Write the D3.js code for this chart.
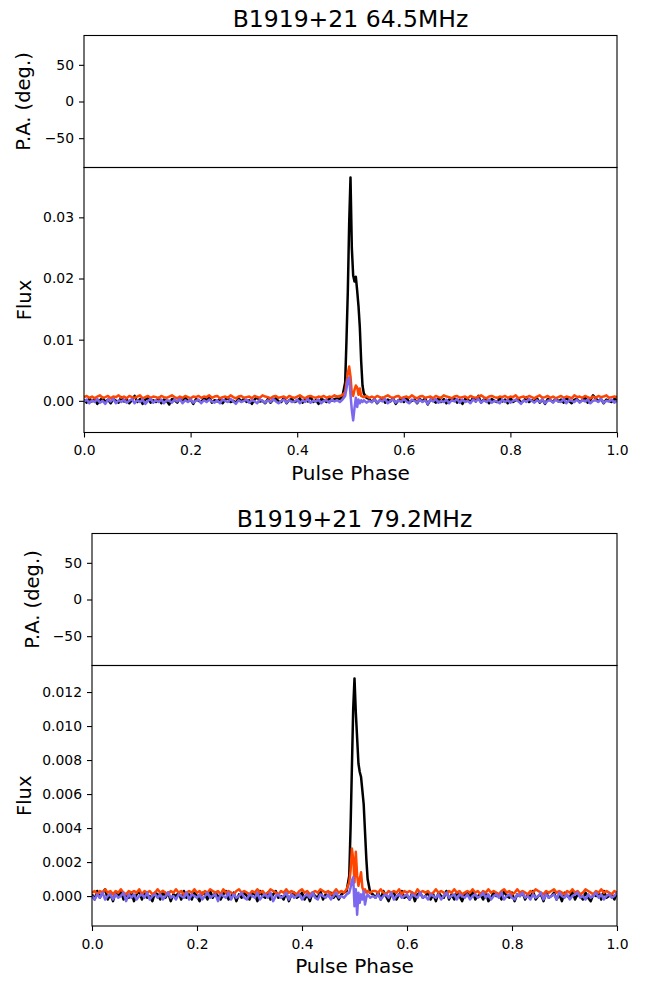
<!DOCTYPE html>
<html>
<head>
<meta charset="utf-8">
<script src="https://cdn.jsdelivr.net/npm/d3@7"></script>
<style>
body { margin: 0; background: #fff; }
text { font-family: "DejaVu Sans", sans-serif; }
</style>
</head>
<body>
<div id="chart"></div>
<script>
// Pulse phase grid (0.005 off-pulse, finer across the pulse)
const phase = [
	0.000,0.005,0.010,0.015,0.020,0.025,0.030,0.035,0.040,0.045,
	0.050,0.055,0.060,0.065,0.070,0.075,0.080,0.085,0.090,0.095,
	0.100,0.105,0.110,0.115,0.120,0.125,0.130,0.135,0.140,0.145,
	0.150,0.155,0.160,0.165,0.170,0.175,0.180,0.185,0.190,0.195,
	0.200,0.205,0.210,0.215,0.220,0.225,0.230,0.235,0.240,0.245,
	0.250,0.255,0.260,0.265,0.270,0.275,0.280,0.285,0.290,0.295,
	0.300,0.305,0.310,0.315,0.320,0.325,0.330,0.335,0.340,0.345,
	0.350,0.355,0.360,0.365,0.370,0.375,0.380,0.385,0.390,0.395,
	0.400,0.405,0.410,0.415,0.420,0.425,0.430,0.435,0.440,0.445,
	0.450,0.455,0.460,0.465,0.470,
	0.475,0.48,0.485,0.49,0.4925,0.495,0.4975,0.50,0.5025,0.505,0.5075,0.51,0.5125,0.515,0.5175,0.52,0.5225,0.525,0.53,0.535,
	0.540,0.545,0.550,0.555,0.560,0.565,0.570,0.575,0.580,0.585,
	0.590,0.595,0.600,0.605,0.610,0.615,0.620,0.625,0.630,0.635,
	0.640,0.645,0.650,0.655,0.660,0.665,0.670,0.675,0.680,0.685,
	0.690,0.695,0.700,0.705,0.710,0.715,0.720,0.725,0.730,0.735,
	0.740,0.745,0.750,0.755,0.760,0.765,0.770,0.775,0.780,0.785,
	0.790,0.795,0.800,0.805,0.810,0.815,0.820,0.825,0.830,0.835,
	0.840,0.845,0.850,0.855,0.860,0.865,0.870,0.875,0.880,0.885,
	0.890,0.895,0.900,0.905,0.910,0.915,0.920,0.925,0.930,0.935,
	0.940,0.945,0.950,0.955,0.960,0.965,0.970,0.975,0.980,0.985,
	0.990,0.995,1.000
];

// 64.5 MHz: total intensity, linear, circular
const I_645 = [
	0.0002,-0.0003,0.0004,-0.0001,0.0003,-0.0005,0.0001,0.0005,-0.0002,0.0002,
	-0.0004,0.0003,0.0000,-0.0003,0.0006,-0.0001,0.0002,-0.0004,0.0001,0.0008,
	-0.0002,0.0003,-0.0005,0.0002,0.0004,-0.0003,0.0001,-0.0002,0.0005,-0.0004,
	0.0002,0.0000,-0.0006,0.0003,0.0001,-0.0003,0.0004,-0.0002,0.0006,-0.0001,
	0.0002,-0.0005,0.0003,0.0000,-0.0002,0.0004,0.0001,0.0006,-0.0003,0.0001,
	-0.0001,0.0003,-0.0004,0.0002,0.0005,-0.0002,0.0000,-0.0003,0.0004,-0.0001,
	0.0003,-0.0002,0.0001,-0.0005,0.0002,0.0006,-0.0001,0.0000,-0.0004,0.0003,
	-0.0003,0.0002,0.0004,-0.0001,-0.0002,0.0005,-0.0004,0.0001,0.0003,-0.0002,
	0.0000,0.0004,-0.0003,0.0002,-0.0001,0.0007,-0.0002,0.0001,-0.0005,0.0003,
	0.0001,-0.0002,0.0004,0.0000,0.0003,
	0.0004,0.0003,0.0008,0.0030,0.0100,0.0180,0.0290,0.0365,0.0250,0.0205,0.0195,0.0203,0.0180,0.0155,0.0120,0.0065,0.0025,0.0012,0.0005,0.0003,
	-0.0002,0.0003,-0.0004,0.0001,0.0005,-0.0003,0.0002,-0.0001,0.0004,-0.0005,
	0.0001,0.0003,-0.0002,0.0006,-0.0003,0.0000,0.0002,-0.0004,0.0003,-0.0001,
	0.0004,-0.0006,0.0002,0.0001,-0.0003,0.0005,-0.0002,0.0003,-0.0004,0.0002,
	0.0000,0.0004,-0.0003,0.0001,-0.0005,0.0003,0.0002,-0.0002,0.0005,-0.0001,
	0.0008,-0.0003,0.0002,0.0001,-0.0004,0.0003,0.0000,-0.0002,0.0004,-0.0001,
	0.0002,-0.0004,0.0005,-0.0002,0.0001,0.0003,-0.0003,0.0000,0.0006,-0.0002,
	0.0001,-0.0001,0.0004,-0.0003,0.0002,-0.0005,0.0003,0.0001,-0.0002,0.0004,
	-0.0001,0.0002,-0.0003,0.0005,0.0000,-0.0004,0.0002,0.0003,-0.0002,0.0001,
	0.0006,-0.0003,0.0001,0.0009,0.0004,-0.0001,0.0003,-0.0004,0.0002,0.0000,
	-0.0002,0.0003,0.0001
];
const L_645 = [
	0.0006,0.0008,0.0005,0.0007,0.0004,0.0007,0.0009,0.0005,0.0006,0.0008,
	0.0004,0.0007,0.0006,0.0009,0.0005,0.0007,0.0004,0.0008,0.0006,0.0005,
	0.0007,0.0009,0.0004,0.0006,0.0008,0.0005,0.0007,0.0006,0.0004,0.0008,
	0.0006,0.0005,0.0007,0.0009,0.0006,0.0004,0.0007,0.0005,0.0008,0.0006,
	0.0004,0.0007,0.0006,0.0008,0.0005,0.0007,0.0006,0.0009,0.0005,0.0007,
	0.0008,0.0004,0.0006,0.0007,0.0005,0.0009,0.0006,0.0004,0.0007,0.0008,
	0.0005,0.0006,0.0007,0.0004,0.0008,0.0006,0.0005,0.0009,0.0007,0.0006,
	0.0004,0.0007,0.0008,0.0005,0.0006,0.0007,0.0004,0.0008,0.0006,0.0005,
	0.0007,0.0009,0.0006,0.0004,0.0007,0.0008,0.0006,0.0005,0.0007,0.0006,
	0.0008,0.0005,0.0007,0.0006,0.0009,
	0.0007,0.0008,0.0009,0.0015,0.0030,0.0045,0.0056,0.0040,0.0012,0.0008,0.0018,0.0025,0.0022,0.0010,0.0020,0.0008,0.0007,0.0006,0.0008,0.0005,
	0.0007,0.0005,0.0008,0.0006,0.0004,0.0007,0.0009,0.0006,0.0005,0.0007,
	0.0008,0.0004,0.0006,0.0007,0.0005,0.0009,0.0006,0.0004,0.0007,0.0008,
	0.0005,0.0006,0.0007,0.0004,0.0008,0.0006,0.0005,0.0009,0.0007,0.0006,
	0.0004,0.0007,0.0008,0.0005,0.0006,0.0007,0.0004,0.0008,0.0006,0.0005,
	0.0007,0.0009,0.0006,0.0004,0.0007,0.0008,0.0006,0.0005,0.0007,0.0006,
	0.0008,0.0005,0.0007,0.0006,0.0009,0.0004,0.0006,0.0007,0.0005,0.0008,
	0.0006,0.0004,0.0007,0.0009,0.0005,0.0006,0.0008,0.0005,0.0007,0.0004,
	0.0006,0.0008,0.0005,0.0007,0.0006,0.0004,0.0009,0.0006,0.0007,0.0005,
	0.0008,0.0006,0.0004,0.0007,0.0005,0.0008,0.0006,0.0007,0.0009,0.0005,
	0.0006,0.0007,0.0006
];
const V_645 = [
	-0.0001,0.0002,-0.0004,0.0001,-0.0002,0.0003,-0.0003,0.0000,-0.0005,0.0002,
	-0.0001,0.0003,-0.0004,0.0001,-0.0002,0.0002,-0.0003,0.0000,0.0003,-0.0004,
	0.0001,-0.0002,0.0002,-0.0005,0.0000,0.0003,-0.0003,0.0001,-0.0002,0.0002,
	-0.0004,0.0001,0.0000,-0.0003,0.0002,-0.0001,0.0003,-0.0004,0.0001,-0.0002,
	0.0002,-0.0003,0.0000,0.0002,-0.0004,0.0001,-0.0002,0.0002,-0.0001,-0.0003,
	0.0001,-0.0004,0.0002,0.0000,-0.0002,0.0003,-0.0001,-0.0005,0.0001,-0.0002,
	0.0000,0.0002,-0.0003,0.0001,-0.0001,-0.0004,0.0002,0.0000,-0.0003,0.0001,
	-0.0002,0.0003,-0.0001,-0.0004,0.0000,0.0002,-0.0003,0.0001,-0.0002,-0.0001,
	0.0002,-0.0004,0.0001,-0.0002,0.0003,-0.0003,0.0000,-0.0001,0.0002,-0.0004,
	0.0000,0.0001,-0.0003,0.0002,-0.0001,
	0.0001,-0.0002,0.0002,0.0008,0.0020,0.0035,0.0038,0.0010,-0.0015,-0.0032,-0.0012,0.0005,-0.0010,0.0002,-0.0004,0.0001,-0.0002,0.0001,-0.0003,0.0000,
	-0.0002,0.0002,-0.0003,0.0001,-0.0001,0.0003,-0.0004,0.0000,0.0002,-0.0003,
	0.0001,-0.0002,0.0003,-0.0001,-0.0004,0.0002,0.0000,-0.0003,0.0002,-0.0002,
	0.0001,-0.0005,0.0002,-0.0001,0.0003,-0.0003,0.0000,-0.0002,0.0002,-0.0004,
	0.0001,-0.0001,0.0003,-0.0003,0.0002,-0.0002,0.0000,-0.0004,0.0002,-0.0001,
	0.0003,-0.0003,0.0001,-0.0002,0.0002,-0.0003,0.0000,-0.0001,-0.0004,0.0002,
	-0.0002,0.0001,-0.0003,0.0000,0.0002,-0.0001,-0.0005,0.0001,-0.0002,0.0003,
	0.0000,-0.0003,0.0001,-0.0002,0.0002,-0.0004,0.0000,0.0001,-0.0003,0.0002,
	-0.0001,-0.0002,0.0003,-0.0004,0.0001,0.0000,-0.0002,0.0002,-0.0003,0.0001,
	-0.0001,0.0002,-0.0004,0.0000,0.0001,-0.0002,0.0003,-0.0003,0.0000,-0.0001,
	0.0002,-0.0003,0.0000
];

// 79.2 MHz
const I_792 = [
	0.0001,-0.0002,0.0003,-0.0001,0.0002,0.0004,-0.0002,0.0001,-0.0003,0.0002,
	0.0000,0.0003,-0.0002,0.0001,-0.0001,0.0002,-0.0003,0.0001,0.0003,-0.0002,
	0.0002,-0.0001,0.0000,-0.0003,0.0002,0.0001,-0.0002,0.0003,-0.0001,0.0002,
	-0.0003,0.0001,0.0000,0.0002,-0.0002,0.0003,-0.0001,0.0001,-0.0002,0.0002,
	0.0000,-0.0003,0.0002,0.0001,-0.0002,0.0003,-0.0001,0.0002,0.0000,-0.0002,
	0.0001,0.0003,-0.0002,0.0000,0.0002,-0.0003,0.0001,-0.0001,0.0002,0.0000,
	-0.0002,0.0002,0.0001,-0.0003,0.0003,0.0000,-0.0001,0.0002,-0.0002,0.0001,
	0.0003,-0.0001,0.0000,-0.0002,0.0002,-0.0003,0.0001,0.0002,-0.0001,0.0000,
	0.0002,-0.0002,0.0001,-0.0003,0.0002,0.0000,-0.0001,0.0003,-0.0002,0.0001,
	0.0000,0.0002,-0.0001,0.0001,-0.0002,
	0.0001,0.0002,0.0003,0.0012,0.0040,0.0075,0.0110,0.0128,0.0108,0.0093,0.0078,0.0073,0.0070,0.0062,0.0054,0.0038,0.0022,0.0010,0.0002,0.0001,
	-0.0001,0.0002,-0.0002,0.0003,0.0000,-0.0003,0.0001,0.0002,-0.0002,0.0001,
	0.0003,-0.0001,0.0000,-0.0002,0.0002,-0.0003,0.0001,0.0002,-0.0001,0.0000,
	0.0002,-0.0002,0.0001,-0.0003,0.0002,0.0000,-0.0001,0.0003,-0.0002,0.0001,
	-0.0002,0.0002,0.0000,-0.0003,0.0001,0.0002,-0.0001,0.0003,-0.0002,0.0000,
	0.0001,-0.0002,0.0002,-0.0003,-0.0001,0.0002,0.0000,0.0001,-0.0002,0.0003,
	0.0000,-0.0001,0.0002,-0.0003,0.0001,0.0000,0.0002,-0.0002,0.0001,-0.0001,
	0.0003,-0.0002,0.0000,0.0001,-0.0003,0.0002,-0.0001,0.0000,0.0002,-0.0002,
	0.0001,-0.0003,0.0002,0.0000,-0.0001,0.0003,-0.0002,0.0001,0.0000,-0.0002,
	0.0002,-0.0001,-0.0003,0.0001,0.0000,0.0002,-0.0002,0.0003,-0.0001,0.0000,
	0.0001,-0.0002,0.0002
];
const L_792 = [
	0.0002,0.0003,0.0001,0.0003,0.0002,0.0004,0.0002,0.0003,0.0001,0.0003,
	0.0002,0.0004,0.0002,0.0001,0.0003,0.0002,0.0003,0.0002,0.0004,0.0001,
	0.0003,0.0002,0.0003,0.0001,0.0002,0.0004,0.0002,0.0003,0.0002,0.0001,
	0.0003,0.0002,0.0004,0.0002,0.0003,0.0001,0.0002,0.0003,0.0002,0.0004,
	0.0002,0.0003,0.0001,0.0003,0.0002,0.0004,0.0003,0.0002,0.0003,0.0001,
	0.0004,0.0002,0.0003,0.0002,0.0001,0.0003,0.0004,0.0002,0.0003,0.0002,
	0.0001,0.0003,0.0002,0.0004,0.0002,0.0003,0.0001,0.0002,0.0004,0.0003,
	0.0002,0.0001,0.0003,0.0002,0.0004,0.0002,0.0003,0.0002,0.0001,0.0003,
	0.0004,0.0002,0.0003,0.0001,0.0002,0.0003,0.0002,0.0004,0.0003,0.0002,
	0.0003,0.0001,0.0002,0.0004,0.0002,
	0.0003,0.0002,0.0004,0.0008,0.0015,0.0028,0.0022,0.0008,0.0026,0.0012,0.0006,0.0010,0.0014,0.0005,0.0003,0.0004,0.0002,0.0003,0.0002,0.0003,
	0.0003,0.0002,0.0004,0.0002,0.0001,0.0003,0.0002,0.0003,0.0002,0.0004,
	0.0001,0.0003,0.0002,0.0003,0.0002,0.0001,0.0004,0.0002,0.0003,0.0002,
	0.0003,0.0001,0.0002,0.0004,0.0002,0.0003,0.0002,0.0001,0.0003,0.0002,
	0.0004,0.0002,0.0003,0.0001,0.0002,0.0003,0.0002,0.0004,0.0002,0.0003,
	0.0001,0.0003,0.0002,0.0004,0.0002,0.0003,0.0002,0.0001,0.0003,0.0004,
	0.0002,0.0003,0.0001,0.0002,0.0004,0.0002,0.0003,0.0002,0.0001,0.0003,
	0.0002,0.0004,0.0003,0.0002,0.0001,0.0003,0.0002,0.0003,0.0004,0.0002,
	0.0003,0.0002,0.0001,0.0003,0.0002,0.0004,0.0002,0.0003,0.0001,0.0002,
	0.0004,0.0003,0.0002,0.0001,0.0003,0.0002,0.0004,0.0002,0.0003,0.0002,
	0.0001,0.0003,0.0002
];
const V_792 = [
	0.0000,-0.0002,0.0001,-0.0001,0.0002,-0.0002,0.0000,0.0001,-0.0002,0.0001,
	-0.0001,0.0000,0.0002,-0.0003,0.0001,-0.0001,0.0001,-0.0002,0.0000,0.0001,
	-0.0001,0.0002,-0.0002,0.0000,0.0001,-0.0001,0.0001,-0.0002,0.0000,0.0002,
	-0.0001,0.0000,-0.0002,0.0001,0.0000,-0.0001,0.0002,-0.0002,0.0001,0.0000,
	-0.0001,0.0001,-0.0002,0.0000,0.0002,-0.0001,0.0000,0.0001,-0.0003,0.0001,
	0.0000,-0.0001,0.0002,-0.0002,0.0001,-0.0001,0.0000,0.0002,-0.0001,-0.0002,
	0.0001,0.0000,-0.0001,0.0002,-0.0002,0.0000,0.0001,-0.0001,0.0002,-0.0003,
	0.0000,0.0001,-0.0001,0.0000,0.0002,-0.0002,0.0001,-0.0001,0.0000,0.0001,
	-0.0002,0.0000,0.0001,-0.0001,0.0002,-0.0001,-0.0002,0.0001,0.0000,-0.0001,
	0.0001,-0.0002,0.0000,0.0002,-0.0001,
	0.0000,-0.0001,0.0001,0.0002,0.0005,0.0009,0.0011,-0.0006,0.0004,-0.0011,0.0002,-0.0004,0.0001,-0.0002,0.0003,-0.0005,-0.0001,0.0001,-0.0001,0.0000,
	-0.0001,0.0001,-0.0002,0.0000,0.0001,-0.0001,0.0002,-0.0002,0.0000,0.0001,
	-0.0001,0.0000,0.0001,-0.0002,0.0001,0.0000,-0.0001,0.0002,-0.0001,0.0000,
	-0.0002,0.0001,0.0000,-0.0001,0.0001,-0.0002,0.0000,0.0002,-0.0001,0.0000,
	0.0001,-0.0002,0.0001,0.0000,-0.0001,0.0001,-0.0002,0.0000,0.0001,-0.0001,
	0.0000,0.0002,-0.0001,0.0001,-0.0002,0.0000,0.0001,-0.0001,0.0002,-0.0002,
	0.0000,0.0001,-0.0001,-0.0002,0.0001,0.0000,0.0002,-0.0001,0.0000,-0.0002,
	0.0001,-0.0001,0.0000,0.0002,-0.0002,0.0001,-0.0001,0.0000,0.0001,-0.0002,
	0.0002,0.0000,-0.0001,0.0001,-0.0002,0.0000,0.0001,0.0002,-0.0001,0.0000,
	-0.0002,0.0001,-0.0001,0.0000,0.0002,-0.0001,0.0001,-0.0002,0.0000,0.0001,
	-0.0001,0.0000,0.0002
];

const paTicks = [-50, 0, 50];
const phaseTicks = [0, 0.2, 0.4, 0.6, 0.8, 1.0];
const fluxTicks_645 = [0, 0.01, 0.02, 0.03];
const fluxTicks_792 = [0, 0.002, 0.004, 0.006, 0.008, 0.010, 0.012];
const colors = ["#000000", "#ff4500", "#7b68ee"];

[I_645, L_645, V_645, I_792, L_792, V_792].forEach(function(s) {
	if (s.length != phase.length) throw new Error("length mismatch " + s.length + " vs " + phase.length);
});

const svg = d3.select("#chart").append("svg")
	.attr("width", 653)
	.attr("height", 985);

function styleAxis(a) {
	a.attr("font-family", "DejaVu Sans").attr("font-size", 13.9);
	a.select(".domain").remove();
	a.selectAll(".tick line").attr("stroke-width", 1.1);
}

function drawPanel(p) {
	const x = d3.scaleLinear().domain([0, 1]).range([p.left, p.right]);
	const yPA = d3.scaleLinear().domain([-90, 90]).range([p.paBottom, p.paTop]);
	const yF = d3.scaleLinear().domain(p.fluxDomain).range([p.fluxBottom, p.paBottom]);

	const g = svg.append("g");

	g.append("text")
		.attr("x", (p.left + p.right) / 2)
		.attr("y", p.titleY)
		.attr("text-anchor", "middle")
		.style("font-size", "23.5px")
		.text(p.title);

	// P.A. axis (empty)
	g.append("g")
		.attr("transform", `translate(${p.left},0)`)
		.call(d3.axisLeft(yPA).tickValues(paTicks).tickSize(5).tickPadding(5).tickFormat(d3.format("d")))
		.call(styleAxis);

	// Flux axis
	g.append("g")
		.attr("transform", `translate(${p.left},0)`)
		.call(d3.axisLeft(yF).tickValues(p.fluxTicks).tickSize(5).tickPadding(5).tickFormat(d3.format(p.fluxFormat)))
		.call(styleAxis);

	// Phase axis
	g.append("g")
		.attr("transform", `translate(0,${p.fluxBottom})`)
		.call(d3.axisBottom(x).tickValues(phaseTicks).tickSize(5).tickPadding(8).tickFormat(d3.format(".1f")))
		.call(styleAxis);

	// profiles
	const clipId = "clip" + p.id;
	svg.append("clipPath").attr("id", clipId)
		.append("rect")
		.attr("x", p.left).attr("y", p.paBottom)
		.attr("width", p.right - p.left).attr("height", p.fluxBottom - p.paBottom);

	const line = d3.line()
		.x(function(d, i) { return x(phase[i]); })
		.y(function(d) { return yF(d); });

	p.series.forEach(function(s, k) {
		g.append("path")
			.datum(s)
			.attr("clip-path", `url(#${clipId})`)
			.attr("fill", "none")
			.attr("stroke", colors[k])
			.attr("stroke-width", 2.5)
			.attr("stroke-linejoin", "round")
			.attr("d", line);
	});

	// spines
	g.append("rect")
		.attr("x", p.left).attr("y", p.paTop)
		.attr("width", p.right - p.left).attr("height", p.paBottom - p.paTop)
		.attr("fill", "none").attr("stroke", "#000").attr("stroke-width", 1.1);
	g.append("rect")
		.attr("x", p.left).attr("y", p.paBottom)
		.attr("width", p.right - p.left).attr("height", p.fluxBottom - p.paBottom)
		.attr("fill", "none").attr("stroke", "#000").attr("stroke-width", 1.1);

	// axis labels
	g.append("text")
		.attr("transform", `translate(${p.paLabelX},${(p.paTop + p.paBottom) / 2}) rotate(-90)`)
		.attr("text-anchor", "middle")
		.style("font-size", "19.5px")
		.text("P.A. (deg.)");
	g.append("text")
		.attr("transform", `translate(${p.fluxLabelX},${(p.paBottom + p.fluxBottom) / 2}) rotate(-90)`)
		.attr("text-anchor", "middle")
		.style("font-size", "19.5px")
		.text("Flux");
	g.append("text")
		.attr("x", (p.left + p.right) / 2)
		.attr("y", p.phaseLabelY)
		.attr("text-anchor", "middle")
		.style("font-size", "20px")
		.text("Pulse Phase");
}

drawPanel({
	id: 1, title: "B1919+21 64.5MHz",
	left: 84, right: 617, paTop: 35.5, paBottom: 167.5, fluxBottom: 432.5,
	fluxDomain: [-0.00518, 0.03815], fluxTicks: fluxTicks_645, fluxFormat: ".2f",
	series: [I_645, L_645, V_645],
	titleY: 26.7, paLabelX: 29.5, fluxLabelX: 30.7, phaseLabelY: 480
});

drawPanel({
	id: 2, title: "B1919+21 79.2MHz",
	left: 92, right: 617, paTop: 533.5, paBottom: 665.5, fluxBottom: 926,
	fluxDomain: [-0.00176, 0.01356], fluxTicks: fluxTicks_792, fluxFormat: ".3f",
	series: [I_792, L_792, V_792],
	titleY: 527, paLabelX: 39.3, fluxLabelX: 30.7, phaseLabelY: 973
});
</script>
</body>
</html>
